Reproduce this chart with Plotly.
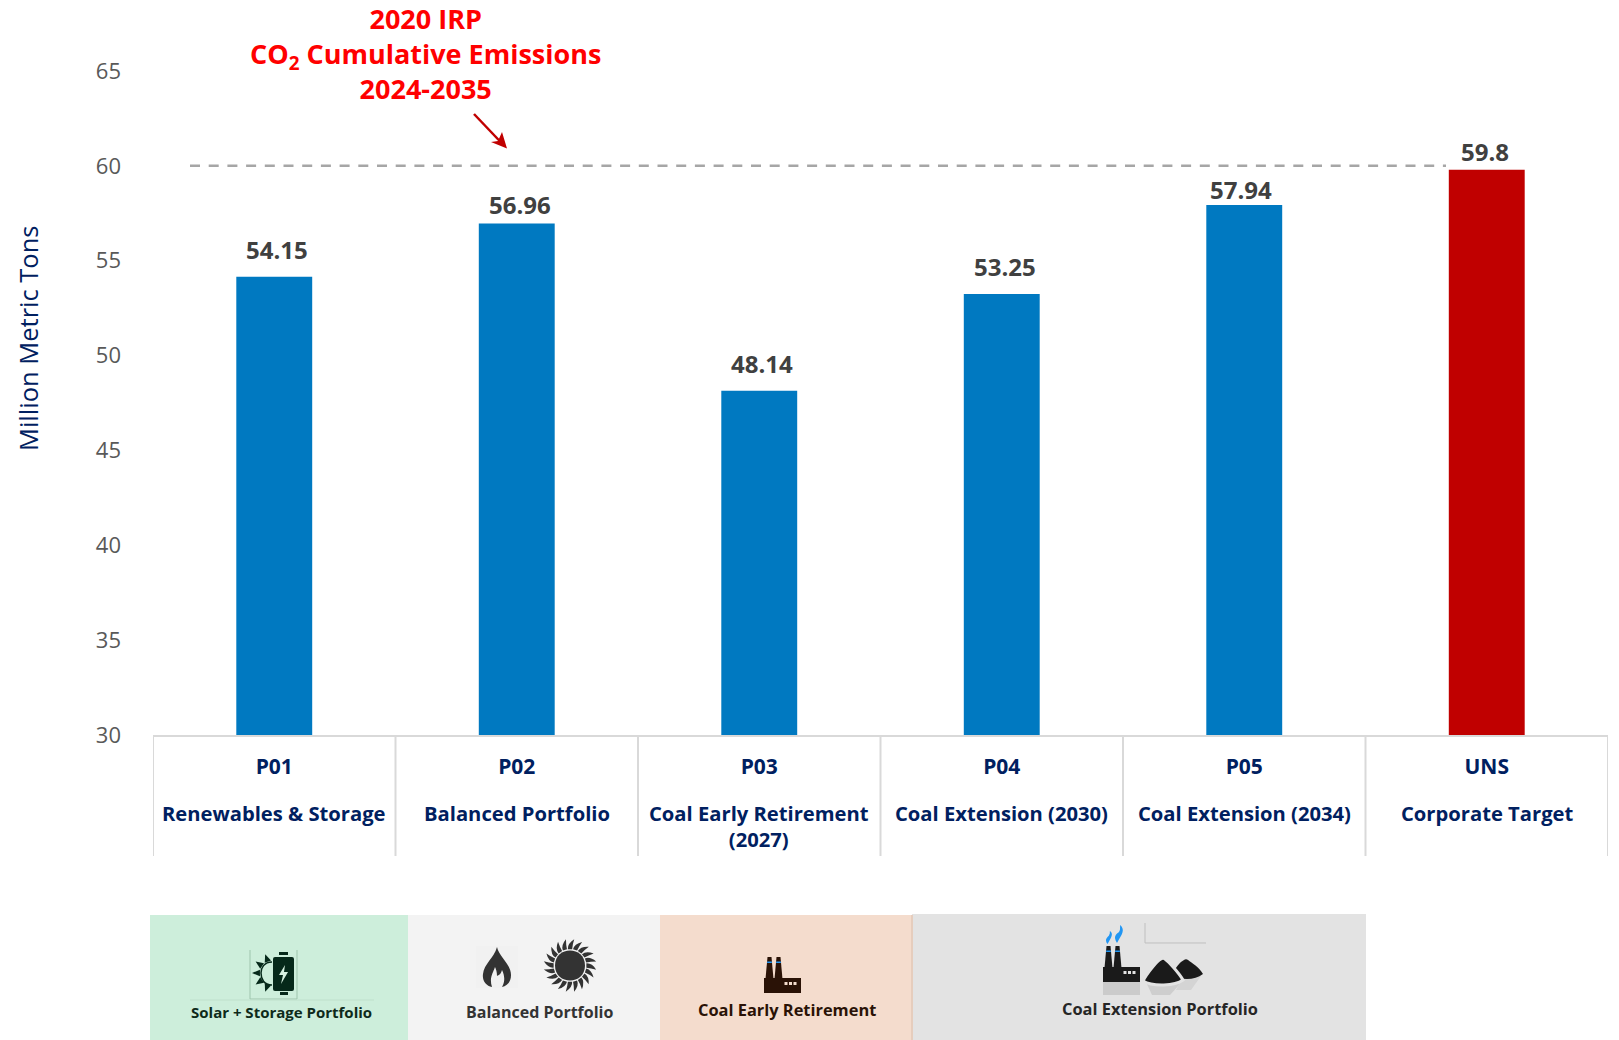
import math
import plotly.graph_objects as go

# Chart data
codes = ["P01", "P02", "P03", "P04", "P05", "UNS"]
names = [
    "Renewables & Storage",
    "Balanced Portfolio",
    "Coal Early Retirement<br>(2027)",
    "Coal Extension (2030)",
    "Coal Extension (2034)",
    "Corporate Target",
]
emissions = [54.15, 56.96, 48.14, 53.25, 57.94, 59.8]
value_labels = ["54.15", "56.96", "48.14", "53.25", "57.94", "59.8"]
y_ticks = [30, 35, 40, 45, 50, 55, 60, 65]
target_level = 60

W, H = 1619, 1040
FONT = "Open Sans"
NAVY = "#002060"
BLUE = "#0079C1"
RED = "#C00000"
RULE = "#D9D9D9"


def px(x):
    return x / W


def py(y):
    return 1 - y / H


def path_of(cmds):
    """Build an SVG path in paper units from (letter, x, y, x, y, ...) pixel tuples."""
    out = []
    for c in cmds:
        letter, nums = c[0], c[1:]
        pts = []
        for i in range(0, len(nums), 2):
            pts.append(f"{px(nums[i]):.5f},{py(nums[i + 1]):.5f}")
        out.append(letter + " ".join(pts))
    return " ".join(out)


shapes = []
annotations = []


def add_path(cmds, fill, line=None, width=0, layer="above"):
    shapes.append(dict(
        type="path", xref="paper", yref="paper", path=path_of(cmds),
        fillcolor=fill, layer=layer,
        line=dict(color=line or "rgba(0,0,0,0)", width=width),
    ))


def add_rect(x0, y0, x1, y1, fill, layer="above"):
    shapes.append(dict(
        type="rect", xref="paper", yref="paper",
        x0=px(x0), x1=px(x1), y0=py(y0), y1=py(y1),
        fillcolor=fill, line=dict(width=0), layer=layer,
    ))


def add_polyline(points, color, width=1):
    cmds = [("M",) + points[0]] + [("L",) + p for p in points[1:]]
    shapes.append(dict(
        type="path", xref="paper", yref="paper", path=path_of(cmds),
        line=dict(color=color, width=width), layer="above",
    ))


def add_text(x, y, text, size, color, weight=700, xanchor="center", yanchor="middle", **kw):
    annotations.append(dict(
        xref="paper", yref="paper", x=px(x), y=py(y), text=text, showarrow=False,
        xanchor=xanchor, yanchor=yanchor,
        font=dict(family=FONT, size=size, color=color, weight=weight), **kw,
    ))


def polar(cx, cy, r, a):
    return cx + r * math.cos(a), cy + r * math.sin(a)


def factory(x, base, color, window, band):
    """Two-chimney plant whose left edge is x and bottom edge is base."""
    top = base - 36
    for off in (1.5, 10.5):
        add_path([
            ("M", x + off, base - 14),
            ("L", x + off + 2, top),
            ("L", x + off + 6, top),
            ("L", x + off + 8, base - 14),
            ("Z",),
        ], color)
        add_rect(x + off + 1.6, top + 4.5, x + off + 6.4, top + 6, band)
    add_rect(x, base - 15, x + 37, base, color)
    for off in (20.5, 25, 29.5):
        add_rect(x + off, base - 11, x + off + 3, base - 8, window)


def coal_pile(left, right, apex_x, top, bottom, color, edge=None):
    add_path([
        ("M", left, bottom - 4),
        ("C", left + 4, bottom - 12, apex_x - 6, top + 3, apex_x - 2, top + 1),
        ("C", apex_x - 1, top, apex_x + 1, top, apex_x + 2, top + 1),
        ("C", apex_x + 6, top + 4, right - 4, bottom - 12, right, bottom - 5),
        ("C", right - 8, bottom + 1, left + 10, bottom + 2, left, bottom - 4),
        ("Z",),
    ], color, edge, 3 if edge else 0)


def smoke(x, top, bottom, width, color):
    mid = (top + bottom) / 2
    add_path([
        ("M", x + width * 0.65, top),
        ("C", x + width * 1.3, mid - 4, x + width * 0.9, mid, x + width * 0.25, bottom),
        ("C", x - width * 0.3, mid + 2, x + width * 0.2, mid, x + width * 0.5, mid - 2),
        ("C", x + width * 0.7, mid - 5, x + width * 0.6, top + 4, x + width * 0.65, top),
        ("Z",),
    ], color)


# Axis frame: category dividers below the baseline
for i in range(len(codes) + 1):
    shapes.append(dict(
        type="line", xref="x", yref="paper", x0=i - 0.5, x1=i - 0.5,
        y0=py(735), y1=py(856), line=dict(color=RULE, width=2), layer="above",
    ))

# Dashed target line
shapes.append(dict(
    type="line", xref="paper", yref="y", x0=px(190), x1=px(1446),
    y0=target_level, y1=target_level,
    line=dict(color="#A6A6A6", width=2.5, dash="10px,8.7px"), layer="above",
))

# Pointer from the heading to the target line
shapes.append(dict(
    type="line", xref="paper", yref="paper", x0=px(474), y0=py(114), x1=px(503), y1=py(144.5),
    line=dict(color=RED, width=2.5), layer="above",
))
add_path([("M", 507, 148.5), ("L", 491, 142), ("L", 498, 141), ("L", 502, 132), ("Z",)], RED)

# Portfolio band beneath the chart
add_rect(150, 915, 408, 1040, "#CDEEDB", layer="below")
add_rect(408, 915, 660, 1040, "#F3F3F3", layer="below")
add_rect(660, 915, 912, 1040, "#F4DCCD", layer="below")
add_rect(912, 914, 1366, 1040, "#E3E3E3", layer="below")
add_rect(911, 915, 913, 1040, "#E6CDBD", layer="below")

# Solar + storage icon
DARK_GREEN = "#06291A"
add_polyline([(250, 950), (250, 999), (297, 999), (297, 950)], "#9EC5AD", 1)
add_polyline([(190, 1000), (374, 1000)], "#BFE0CC", 1)
sun_c = (272, 973)
for deg in (110, 145, 180, 215, 250):
    a = math.radians(deg)
    b0 = polar(*sun_c, 12.5, a - 0.27)
    b1 = polar(*sun_c, 12.5, a + 0.27)
    tip = polar(*sun_c, 20, a)
    add_path([("M",) + b0, ("L",) + tip, ("L",) + b1, ("Z",)], DARK_GREEN)
add_path([
    ("M", 272, 962), ("C", 264, 962, 261, 968, 261, 973),
    ("C", 261, 979, 264, 985, 272, 985),
], "rgba(0,0,0,0)", DARK_GREEN, 1.5)
add_rect(279, 952, 288, 955, DARK_GREEN)
add_rect(280, 992, 288, 995, DARK_GREEN)
add_path([
    ("M", 275, 957), ("L", 292, 957), ("Q", 294, 957, 294, 959),
    ("L", 294, 989), ("Q", 294, 991, 292, 991), ("L", 275, 991),
    ("Q", 273, 991, 273, 989), ("L", 273, 959), ("Q", 273, 957, 275, 957), ("Z",),
], DARK_GREEN)
add_path([
    ("M", 285, 965), ("L", 279, 975), ("L", 283, 975), ("L", 281, 984),
    ("L", 288, 972), ("L", 284, 972), ("Z",),
], "#D6F0E0")

# Flame and sun icons
INK = "#333333"
add_rect(476, 946, 518, 988, "#F1F1F1")
add_path([
    ("M", 497, 947),
    ("C", 499, 957, 511, 964, 511, 975),
    ("C", 511, 982, 507, 986, 502, 987),
    ("C", 505, 982, 505, 976, 502, 970),
    ("C", 501, 974, 499, 975, 497, 976),
    ("C", 497, 972, 496, 969, 495, 967),
    ("C", 493, 973, 489, 978, 492, 987),
    ("C", 486, 986, 482, 981, 483, 974),
    ("C", 484, 964, 494, 958, 497, 947),
    ("Z",),
], INK)
sun_centre = (570, 965.5)
add_path([
    ("M", sun_centre[0] - 15, sun_centre[1]),
    ("C", sun_centre[0] - 15, sun_centre[1] - 20, sun_centre[0] + 15, sun_centre[1] - 20, sun_centre[0] + 15, sun_centre[1]),
    ("C", sun_centre[0] + 15, sun_centre[1] + 20, sun_centre[0] - 15, sun_centre[1] + 20, sun_centre[0] - 15, sun_centre[1]),
    ("Z",),
], INK)
for k in range(20):
    a = 2 * math.pi * k / 20
    b0 = polar(*sun_centre, 16.5, a - 0.13)
    b1 = polar(*sun_centre, 16.5, a + 0.13)
    ctrl = polar(*sun_centre, 22, a - 0.12)
    tip = polar(*sun_centre, 26.5, a + 0.16)
    add_path([("M",) + b0, ("Q",) + ctrl + tip, ("Q",) + polar(*sun_centre, 21, a + 0.12) + b1, ("Z",)], INK)

# Retirement plant
factory(764, 993, "#2A1206", "#F4DCCD", "#2196F3")

# Coal extension plant, smoke and coal heaps
BLACK = "#1A1A1A"
add_rect(1103, 982, 1140, 995, "#CBCBCB")
add_path([("M", 1147, 984), ("L", 1180, 984), ("L", 1170, 995), ("L", 1152, 995), ("Z",)], "#CECECE")
add_path([("M", 1182, 979), ("L", 1201, 976), ("L", 1191, 990), ("L", 1176, 990), ("Z",)], "#D4D4D4")
factory(1103, 982, BLACK, "#E3E3E3", "#2196F3")
coal_pile(1172, 1203, 1186, 959, 979, BLACK)
coal_pile(1143, 1183, 1163, 958, 985, BLACK, "#E3E3E3")
smoke(1106, 931, 944, 6, "#2196F3")
smoke(1115, 925, 943, 8, "#2196F3")
add_polyline([(1145, 923), (1145, 943), (1206, 943)], "#BFBFBF", 1)

# Portfolio captions
add_text(281, 1012, "Solar + Storage Portfolio", 15, "#0E2A1A")
add_text(539, 1012, "Balanced Portfolio", 16, "#333333")
add_text(787, 1009, "Coal Early Retirement", 16.4, "#2A1206")
add_text(1160, 1008, "Coal Extension Portfolio", 16.4, "#262626")

# Category names under each code
for i, name in enumerate(names):
    annotations.append(dict(
        xref="x", yref="paper", x=i, y=py(796.5), text=name, showarrow=False,
        xanchor="center", yanchor="top", align="center",
        font=dict(family=FONT, size=20.2, color=NAVY, weight=700),
    ))

# Value labels above the bars
label_dx = [3, 3, 3, 3, -3, -2]
label_dy = [9, 1, 9, 9, -3, 0]
for i, (v, label) in enumerate(zip(emissions, value_labels)):
    annotations.append(dict(
        xref="x", yref="y", x=i, y=v, text=label, showarrow=False,
        xanchor="center", yanchor="bottom", xshift=label_dx[i], yshift=label_dy[i],
        font=dict(family=FONT, size=24, color="#404040", weight=700),
    ))

# Heading
add_text(425, 53, "2020 IRP<br>CO<sub>2</sub> Cumulative Emissions<br>2024-2035", 27, "#FF0000", align="center")

# Vertical axis title
add_text(28, 338, "Million Metric Tons", 25.5, NAVY, weight=400, textangle=-90)

fig = go.Figure(go.Bar(
    x=list(range(len(codes))),
    y=emissions,
    marker=dict(color=[BLUE] * 5 + [RED], line=dict(width=0)),
    width=0.313,
    hoverinfo="x+y",
))

fig.update_layout(
    width=W,
    height=H,
    margin=dict(l=0, r=0, t=0, b=0, autoexpand=False),
    paper_bgcolor="white",
    plot_bgcolor="white",
    showlegend=False,
    font=dict(family=FONT),
    shapes=shapes,
    annotations=annotations,
    xaxis=dict(
        domain=[px(153), px(1608)],
        range=[-0.5, 5.5],
        automargin=False,
        tickmode="array",
        tickvals=list(range(len(codes))),
        ticktext=codes,
        tickfont=dict(family=FONT, size=21, color=NAVY, weight=700),
        ticks="",
        ticklabelstandoff=12,
        showgrid=False,
        zeroline=False,
        showline=True,
        linecolor=RULE,
        linewidth=2,
    ),
    yaxis=dict(
        domain=[py(735), py(71)],
        range=[30, 65],
        automargin=False,
        tickmode="array",
        tickvals=y_ticks,
        tickfont=dict(family=FONT, size=22, color="#595959"),
        ticks="",
        ticklabelstandoff=31,
        showgrid=False,
        zeroline=False,
        showline=False,
    ),
)

fig.write_html("out.html")
